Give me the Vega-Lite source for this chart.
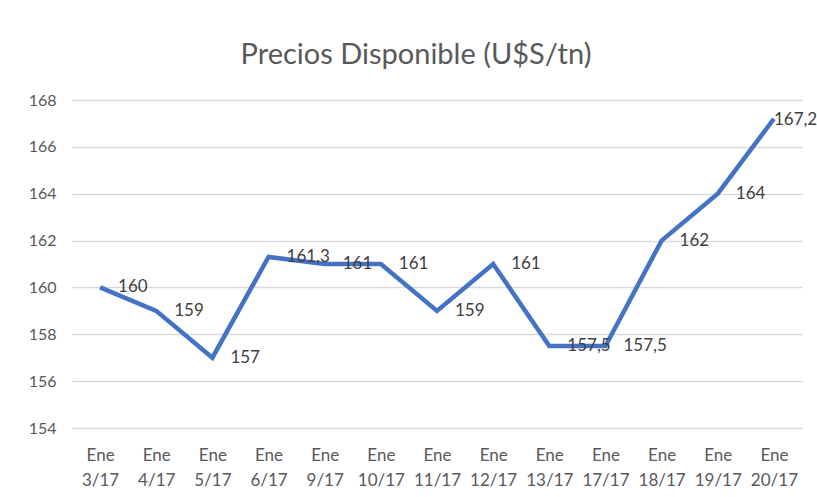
{
  "$schema": "https://vega.github.io/schema/vega-lite/v6.json",
  "width": 730,
  "height": 328,
  "autosize": {"type": "none"},
  "padding": {"left": 72, "top": 100, "right": 15, "bottom": 69},
  "background": "white",
  "config": {
    "view": {"stroke": null},
    "font": "Lato"
  },
  "title": {
    "text": "Precios Disponible (U$S/tn)",
    "fontSize": 29,
    "fontWeight": "normal",
    "color": "#595959",
    "font": "Lato",
    "offset": 22,
    "dx": -21
  },
  "data": {
    "values": [
      {"fecha": "Ene 3/17", "precio": 160, "etiqueta": "160"},
      {"fecha": "Ene 4/17", "precio": 159, "etiqueta": "159"},
      {"fecha": "Ene 5/17", "precio": 157, "etiqueta": "157"},
      {"fecha": "Ene 6/17", "precio": 161.3, "etiqueta": "161,3"},
      {"fecha": "Ene 9/17", "precio": 161, "etiqueta": "161"},
      {"fecha": "Ene 10/17", "precio": 161, "etiqueta": "161"},
      {"fecha": "Ene 11/17", "precio": 159, "etiqueta": "159"},
      {"fecha": "Ene 12/17", "precio": 161, "etiqueta": "161"},
      {"fecha": "Ene 13/17", "precio": 157.5, "etiqueta": "157,5"},
      {"fecha": "Ene 17/17", "precio": 157.5, "etiqueta": "157,5"},
      {"fecha": "Ene 18/17", "precio": 162, "etiqueta": "162"},
      {"fecha": "Ene 19/17", "precio": 164, "etiqueta": "164"},
      {"fecha": "Ene 20/17", "precio": 167.2, "etiqueta": "167,2"}
    ]
  },
  "encoding": {
    "x": {
      "field": "fecha",
      "type": "nominal",
      "sort": null,
      "scale": {"type": "point", "padding": 0.5},
      "axis": {
        "title": null,
        "labelAngle": 0,
        "labelExpr": "split(datum.label, ' ')",
        "labelLineHeight": 25,
        "labelFontSize": 17,
        "labelColor": "#595959",
        "labelPadding": 19,
        "ticks": false,
        "domain": false,
        "grid": false
      }
    },
    "y": {
      "field": "precio",
      "type": "quantitative",
      "scale": {"domain": [154, 168], "nice": false, "zero": false},
      "axis": {
        "title": null,
        "values": [154, 156, 158, 160, 162, 164, 166, 168],
        "labelFontSize": 16,
        "labelColor": "#595959",
        "labelPadding": 16,
        "ticks": false,
        "domain": false,
        "grid": true,
        "gridColor": "#d9d9d9",
        "gridWidth": 1.3
      }
    }
  },
  "layer": [
    {
      "mark": {"type": "line", "color": "#4472C4", "strokeWidth": 4.5, "strokeJoin": "miter"}
    },
    {
      "transform": [{"filter": "datum.fecha != 'Ene 20/17'"}],
      "mark": {"type": "text", "align": "left", "baseline": "middle", "dx": 18, "fontSize": 17, "color": "#404040"},
      "encoding": {"text": {"field": "etiqueta"}}
    },
    {
      "transform": [{"filter": "datum.fecha == 'Ene 20/17'"}],
      "mark": {"type": "text", "align": "left", "baseline": "middle", "dx": 0, "dy": 1, "fontSize": 17, "color": "#404040"},
      "encoding": {"text": {"field": "etiqueta"}}
    }
  ]
}
